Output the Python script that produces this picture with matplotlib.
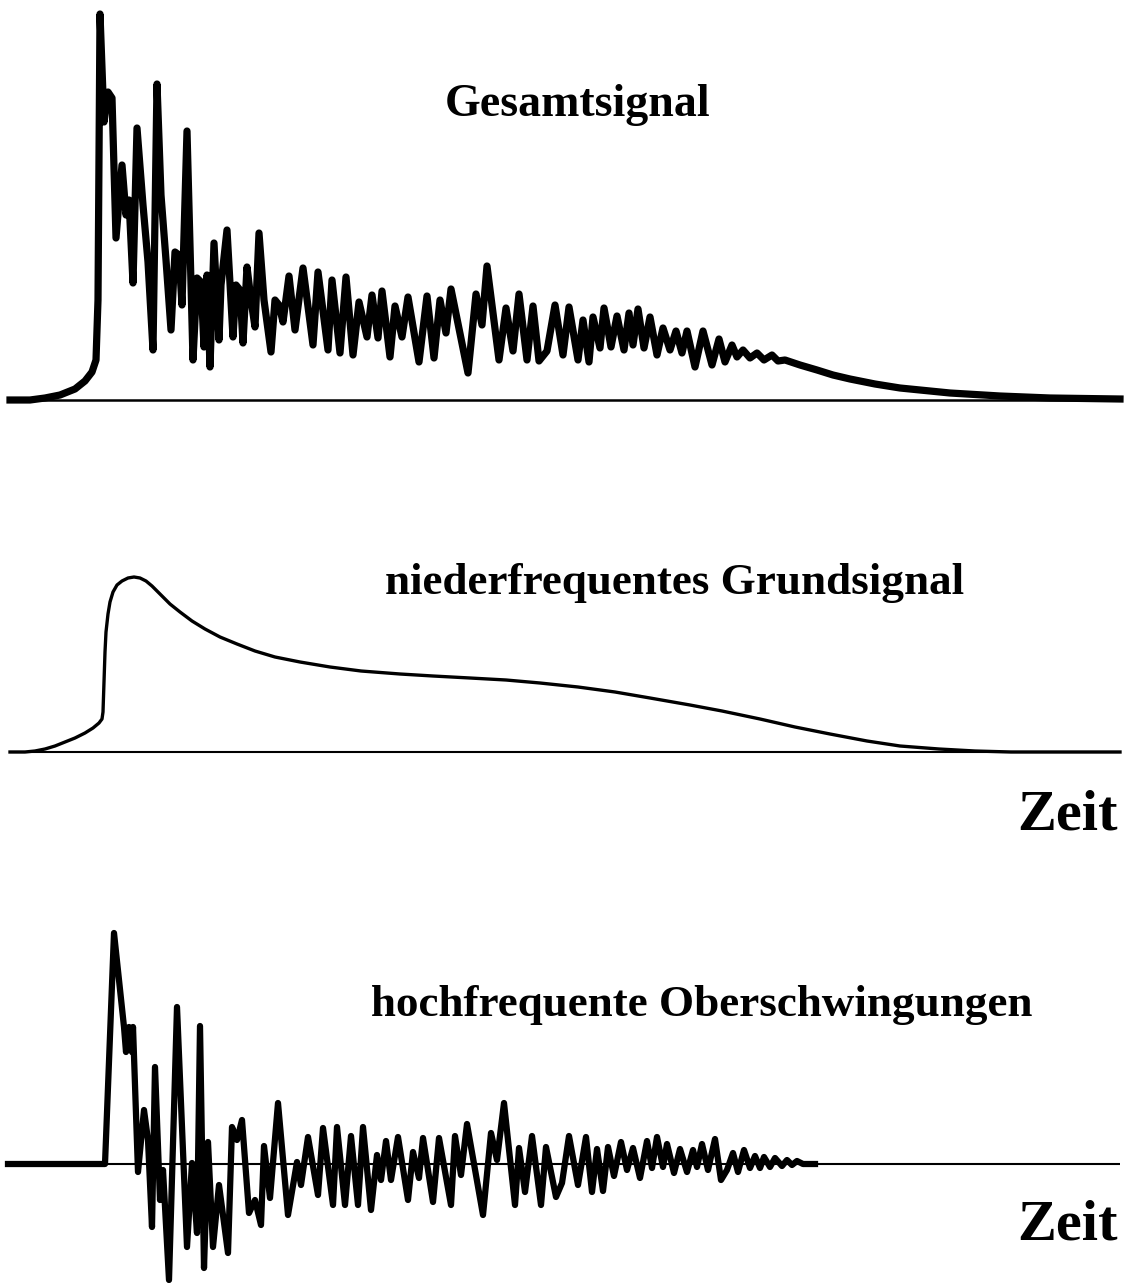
import numpy as np
import matplotlib
matplotlib.use("Agg")
import matplotlib.pyplot as plt

# Gesamtsignal: Zeit (Skala 0..1127) und Amplitude ueber der Nulllinie
t_gesamt = [10, 30, 45, 60, 75, 85, 92, 96, 98, 99, 100,
            104, 108, 112, 116, 122, 126, 129, 133, 137, 143, 148, 153, 157, 161, 166, 171, 175, 179, 182,
            187, 193, 197, 201, 204, 207, 210, 214, 219, 221, 227, 233, 236, 240, 243, 247, 251, 255, 259,
            264, 271, 275, 279, 283, 289, 295, 303, 313, 318, 328, 332, 340, 346, 353, 359, 367, 372, 378,
            382, 390, 395, 402, 408, 419, 427, 434, 440, 446, 451, 468, 476, 482, 487, 499, 506, 513, 519,
            527, 533, 539, 547, 555, 563, 569, 578, 583, 589, 593, 600, 604, 611, 617, 624, 629, 633, 638,
            644, 650, 657, 663, 670, 676, 682, 687, 695, 703, 712, 719, 725, 732, 737, 743, 750, 757, 764,
            772, 778, 785, 800, 817, 833, 850, 875, 900, 950, 1000, 1050, 1120]
a_gesamt = [0, 0, 2, 5, 11, 19, 28, 40, 100, 250, 386,
            278, 308, 302, 162, 235, 185, 200, 117, 272, 195, 138, 50, 316, 205, 140, 70, 148, 145, 95,
            269, 40, 122, 118, 53, 125, 33, 157, 60, 115, 170, 63, 115, 110, 57, 133, 100, 73, 167,
            100, 48, 100, 95, 78, 124, 70, 132, 55, 128, 50, 120, 47, 123, 45, 98, 63, 105, 62,
            109, 43, 94, 63, 103, 38, 104, 42, 100, 67, 111, 27, 106, 75, 134, 40, 92, 49, 106,
            40, 94, 39, 49, 95, 45, 93, 40, 80, 38, 83, 52, 92, 53, 84, 50, 87, 55, 91,
            52, 83, 45, 72, 50, 69, 47, 69, 33, 69, 35, 61, 38, 55, 43, 50, 42, 47, 40,
            45, 39, 40, 35, 30, 25, 21, 16, 12, 7, 4, 2, 1]

# niederfrequentes Grundsignal
t_grund = [10, 25, 35, 45, 55, 65, 75, 85, 93, 99, 102, 103, 104, 105, 106, 108, 110, 113, 117, 122,
           128, 134, 140, 146, 152, 160, 170, 180, 192, 205, 220, 237, 255, 275, 300, 330, 361, 400,
           433, 470, 506, 540, 578, 615, 650, 690, 722, 760, 795, 830, 867, 900, 939, 975, 1011, 1120]
a_grund = [0, 0, 1, 3, 6, 10, 14, 19, 24, 29, 33, 40, 70, 100, 120, 138, 150, 160, 167, 171,
           174, 175, 174, 171, 166, 158, 148, 140, 131, 123, 115, 108, 101, 95, 90, 85, 81, 78,
           76, 74, 72, 69, 65, 60, 54, 47, 41, 33, 25, 18, 11, 6, 3, 1, 0, 0]

# hochfrequente Oberschwingungen
t_ober = [8, 105, 114, 124, 126, 129, 132, 133, 138, 144, 148, 152, 155, 160, 163, 169, 177, 187, 192,
          197, 200, 204, 208, 213, 219, 228, 232, 237, 242, 249, 255, 261, 264, 270, 278, 288, 297,
          301, 308, 318, 323, 333, 337, 345, 351, 358, 363, 371, 377, 381, 386, 391, 398, 408, 413,
          419, 423, 433, 439, 451, 455, 461, 467, 483, 491, 497, 504, 515, 519, 525, 532, 541, 546,
          556, 562, 569, 578, 586, 592, 597, 603, 608, 614, 621, 627, 633, 640, 647, 652, 657, 663,
          667, 674, 680, 687, 693, 697, 702, 708, 715, 721, 727, 733, 738, 744, 750, 755, 760, 764,
          770, 775, 782, 787, 792, 797, 803, 815]
a_ober = [0, 0, 231, 137, 112, 137, 112, 137, -8, 54, 24, -63, 97, -36, -6, -116, 157, -83, 1,
          -69, 138, -104, 22, -83, -21, -89, 37, 24, 44, -49, -36, -61, 18, -34, 61, -51, 2,
          -21, 27, -31, 36, -41, 37, -41, 28, -41, 37, -46, 9, -16, 23, -16, 27, -36, 12,
          -14, 26, -38, 26, -41, 28, -11, 40, -51, 31, 4, 61, -41, 16, -28, 28, -41, 17,
          -33, -19, 28, -21, 27, -28, 15, -27, 17, -12, 22, -6, 16, -14, 23, -4, 27, -3,
          20, -9, 15, -8, 14, -3, 20, -6, 25, -16, -6, 11, -8, 14, -4, 8, -4, 7,
          -3, 6, -2, 4, -1, 3, 0, 0]
t_null = [8, 1120]

W, H = 1127, 1283
fig = plt.figure(figsize=(W / 100, H / 100), dpi=100)

def panel(top, bottom, null):
    # Achse in Pixelbereich [top, bottom] des Bildes, Nulllinie bei null
    ax = fig.add_axes([0, 1 - bottom / H, 1, (bottom - top) / H])
    ax.set_xlim(0, W)
    ax.set_ylim(null - bottom, null - top)
    ax.axis('off')
    return ax

ax1 = panel(0, 410, 400)
ax1.hlines(0, t_gesamt[0], t_gesamt[-1], color='black', lw=1.8)
ax1.plot(t_gesamt, a_gesamt, color='black', lw=5.2, solid_joinstyle='round')

ax2 = panel(540, 770, 752)
ax2.hlines(0, t_grund[0], t_grund[-1], color='black', lw=1.5)
ax2.plot(t_grund, a_grund, color='black', lw=2.4)

ax3 = panel(880, 1283, 1164)
ax3.hlines(0, t_null[0], t_null[-1], color='black', lw=1.5)
ax3.plot(t_ober, a_ober, color='black', lw=4.5, solid_joinstyle='round')

schrift = dict(family='Liberation Serif', weight='bold', ha='center', va='center')
fig.text(578 / W, 1 - 105 / H, 'Gesamtsignal', fontsize=33, **schrift)
fig.text(675 / W, 1 - 583 / H, 'niederfrequentes Grundsignal', fontsize=32.5, **schrift)
fig.text(1068 / W, 1 - 815 / H, 'Zeit', fontsize=42, **schrift)
fig.text(702 / W, 1 - 1005 / H, 'hochfrequente Oberschwingungen', fontsize=32.5, **schrift)
fig.text(1068 / W, 1 - 1225 / H, 'Zeit', fontsize=42, **schrift)

fig.savefig('out.png', dpi=100, facecolor='white')
